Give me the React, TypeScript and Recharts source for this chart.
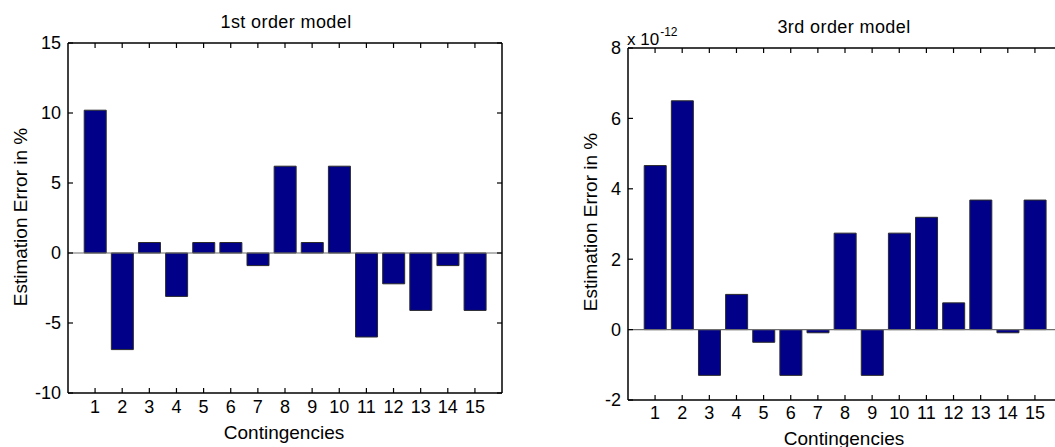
import React from "react";
import { BarChart, Bar, XAxis, YAxis, ReferenceLine } from "recharts";

const contingencies = ["1", "2", "3", "4", "5", "6", "7", "8", "9", "10", "11", "12", "13", "14", "15"];

// 1st order model, error in %
const firstOrder = [10.2, -6.9, 0.75, -3.1, 0.75, 0.75, -0.9, 6.2, 0.75, 6.2, -6.0, -2.2, -4.1, -0.9, -4.1];

// 3rd order model, error in % (x 10^-12)
const thirdOrder = [4.66e-12, 6.5e-12, -1.3e-12, 1.0e-12, -0.36e-12, -1.3e-12, -0.09e-12, 2.74e-12, -1.3e-12, 2.74e-12, 3.19e-12, 0.76e-12, 3.68e-12, -0.09e-12, 3.68e-12];

const leftTicks = [-10, -5, 0, 5, 10, 15];
const rightTicks = [-2e-12, 0, 2e-12, 4e-12, 6e-12, 8e-12];

const FONT = '"Liberation Sans", Arial, Helvetica, sans-serif';
const BAR_FILL = "#000088";
const CHART_W = 510;
const CHART_H = 447;
const Y_AXIS_W = 68;
const X_AXIS_H = 30;
const RIGHT_M = 7;
const TICK_LEN = 5;

const axisLineStyle = { stroke: "#000", strokeWidth: 1.5 };

function Panel({ values, domain, ticks, fmt, left, top, bottom, tickGap }: {
  values: number[]; domain: [number, number]; ticks: number[]; fmt: (v: number) => string;
  left: number; top: number; bottom: number; tickGap: number;
}) {
  const data = contingencies.map((c, i) => ({ name: c, v: values[i] }));
  const plotL = Y_AXIS_W;
  const plotR = CHART_W - RIGHT_M - 1;
  const plotT = top;
  const plotB = CHART_H - bottom - X_AXIS_H;

  // x tick: label below, inward marks at bottom and top
  const XTick = (p: any) => {
    const cx = p.payload.coordinate;
    return (
      <g>
        <line x1={cx} x2={cx} y1={plotB} y2={plotB - TICK_LEN} stroke="#000" strokeWidth={1.2} />
        <line x1={cx} x2={cx} y1={plotT} y2={plotT + TICK_LEN} stroke="#000" strokeWidth={1.2} />
        <text x={cx} y={plotB + tickGap} dy="0.72em" textAnchor="middle" fontSize={18} fontFamily={FONT} fill="#000">
          {p.payload.value}
        </text>
      </g>
    );
  };

  // y tick: label left, inward marks at left and right
  const YTick = (p: any) => {
    const cy = p.payload.coordinate;
    return (
      <g>
        <line x1={plotL} x2={plotL + TICK_LEN} y1={cy} y2={cy} stroke="#000" strokeWidth={1.2} />
        <line x1={plotR} x2={plotR - TICK_LEN} y1={cy} y2={cy} stroke="#000" strokeWidth={1.2} />
        <text x={plotL - 7} y={cy} dy="0.36em" textAnchor="end" fontSize={18} fontFamily={FONT} fill="#000">
          {fmt(p.payload.value)}
        </text>
      </g>
    );
  };

  return (
    <div style={{ position: "absolute", left, top: 0 }}>
      <BarChart width={CHART_W} height={CHART_H} data={data} barCategoryGap="10%"
        margin={{ top: top - 1, right: RIGHT_M, left: 0, bottom }}>
        <XAxis dataKey="name" xAxisId="b" height={X_AXIS_H} padding={{ left: 13.5, right: 13.5 }}
          tickLine={false} tick={XTick} axisLine={axisLineStyle} interval={0} />
        <XAxis dataKey="name" xAxisId="t" orientation="top" height={1} padding={{ left: 13.5, right: 13.5 }}
          tickLine={false} tick={false} axisLine={axisLineStyle} interval={0} />
        <YAxis yAxisId="l" width={Y_AXIS_W} domain={domain} ticks={ticks} type="number" allowDataOverflow
          tickLine={false} tick={YTick} axisLine={axisLineStyle} />
        <YAxis yAxisId="r" orientation="right" width={1} domain={domain} ticks={ticks} type="number" allowDataOverflow
          tickLine={false} tick={false} axisLine={axisLineStyle} />
        <ReferenceLine y={0} xAxisId="b" yAxisId="l" stroke="#6e6e6e" strokeWidth={1.2} />
        <Bar dataKey="v" xAxisId="b" yAxisId="l" fill={BAR_FILL} stroke="#2a2a2a" strokeWidth={1}
          isAnimationActive={false} />
      </BarChart>
    </div>
  );
}

const textBase: React.CSSProperties = {
  position: "absolute", fontFamily: FONT, color: "#000", whiteSpace: "nowrap", lineHeight: 1,
};

function Centered({ x, y, size, spacing, children }: { x: number; y: number; size: number; spacing?: number; children: React.ReactNode }) {
  return (
    <div style={{ ...textBase, left: x, top: y, fontSize: size, letterSpacing: spacing ?? 0,
      transform: "translate(-50%, -50%)" }}>
      {children}
    </div>
  );
}

const rotated: React.CSSProperties = { display: "inline-block", transform: "rotate(-90deg)" };

export default function App() {
  return (
    <div style={{ position: "absolute", left: 0, top: 0, width: 1055, height: 447, overflow: "hidden", background: "#fff" }}>
      <Panel values={firstOrder} domain={[-10, 15]} ticks={leftTicks} fmt={(v) => String(v)}
        left={0} top={43} bottom={24} tickGap={7} />
      <Panel values={thirdOrder} domain={[-2e-12, 8e-12]} ticks={rightTicks} fmt={(v) => String(Math.round(v * 1e12))}
        left={560} top={48} bottom={17} tickGap={6} />

      <Centered x={286} y={22} size={18} spacing={0.4}>1st order model</Centered>
      <Centered x={844} y={27} size={18} spacing={0.4}>3rd order model</Centered>

      <Centered x={20} y={217} size={19}><span style={rotated}>Estimation Error in %</span></Centered>
      <Centered x={590} y={222} size={19}><span style={rotated}>Estimation Error in %</span></Centered>

      <Centered x={284} y={432} size={19}>Contingencies</Centered>
      <Centered x={844} y={438} size={19}>Contingencies</Centered>

      <div style={{ ...textBase, left: 627, top: 31, fontSize: 17 }}>
        x 10<span style={{ fontSize: 12, position: "relative", top: -9, marginLeft: 1 }}>-12</span>
      </div>
    </div>
  );
}
